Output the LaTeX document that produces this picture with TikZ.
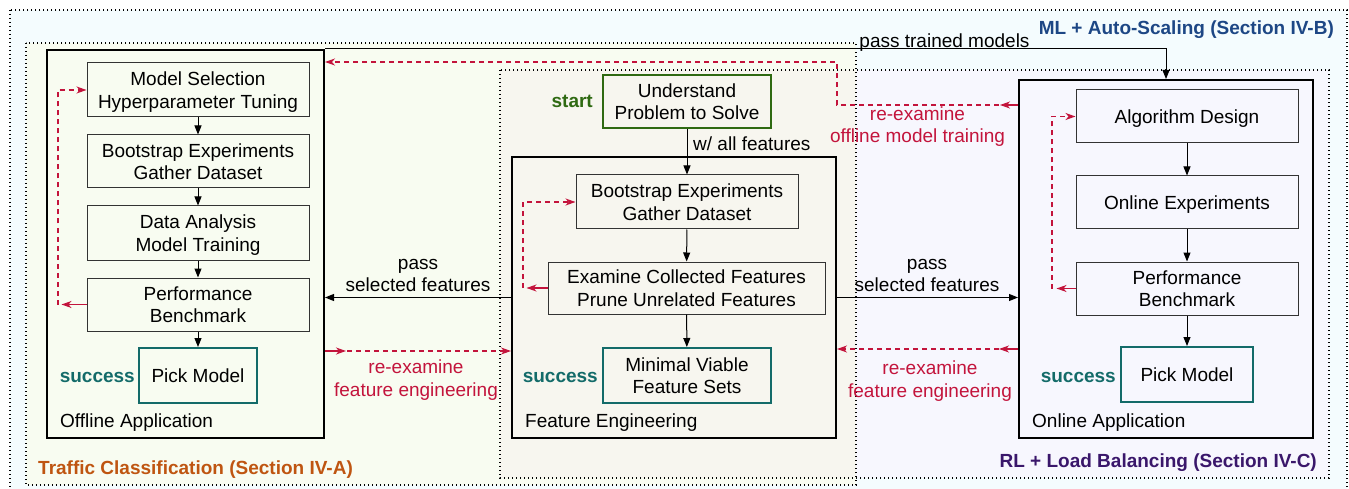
\documentclass[tikz,border=0pt]{standalone}
\usepackage{fontspec}
\setmainfont{Liberation Sans}
\usetikzlibrary{arrows.meta}
\definecolor{mlfill}{HTML}{F4FCFE}
\definecolor{tcfill}{HTML}{F8FCF1}
\definecolor{rlfill}{HTML}{F7F7FE}
\definecolor{ovfill}{HTML}{F7F6EF}
\definecolor{boxgray}{HTML}{333333}
\definecolor{okteal}{HTML}{136B69}
\definecolor{startgreen}{HTML}{2F6A12}
\definecolor{rered}{HTML}{C3143C}
\definecolor{mlblue}{HTML}{1D4785}
\definecolor{tcorange}{HTML}{BF5511}
\definecolor{rlpurple}{HTML}{3A176B}
\begin{document}
\begin{tikzpicture}[x=1pt,y=-1pt,
  every node/.style={font=\fontsize{19}{22.5}\selectfont, inner sep=0pt, text depth=0pt},
  inbox/.style={draw=boxgray, line width=1pt, align=center, minimum width=222pt, minimum height=53pt},
  okbox/.style={draw=okteal, line width=2pt, align=center, minimum height=55pt},
  startbox/.style={draw=startgreen, line width=2pt, align=center, minimum width=168pt, minimum height=53pt},
  appbox/.style={draw=black, line width=2pt},
  region/.style={line width=1.1pt, dash pattern=on 1.1pt off 2.9pt},
  blk/.style={draw=black, line width=1pt, -{Triangle[length=9pt,width=7pt]}},
  redtip/.style={draw=rered, line width=1.2pt, -{Stealth[length=10pt,width=7pt,inset=3pt]}},
  redloop/.style={redtip, dash pattern=on 5pt off 4pt},
  lab/.style={align=center},
  redlab/.style={align=center, text=rered},
  okword/.style={font=\fontsize{19}{22.5}\selectfont\bfseries, text=okteal},
  seclab/.style={font=\fontsize{19}{22.5}\selectfont\bfseries}
]
\useasboundingbox (0,0) rectangle (1349,489);
\fill[white] (0,0) rectangle (1349,489);
% regions
\fill[mlfill] (10,10) rectangle (1347,492);
\fill[tcfill] (26,43) rectangle (856,485);
\fill[rlfill] (500,70) rectangle (1329,478);
\fill[ovfill] (500,70) rectangle (856,478);
\draw[region] (10,10) rectangle (1347,492);
\draw[region] (26,43) rectangle (856,485);
\draw[region] (500,70) rectangle (1329,478);

\node[seclab, text=mlblue, anchor=east] (mlt) at (1334,28) {ML + Auto-Scaling (Section IV-B)};
\node[seclab, text=tcorange, anchor=west] (tct) at (38,468) {Traffic Classification (Section IV-A)};
\node[seclab, text=rlpurple, anchor=east] (rlt) at (1317,461) {RL + Load Balancing (Section IV-C)};

% application boxes
\node[appbox, minimum width=277pt, minimum height=388pt] (off) at (185.5,244) {};
\node[appbox, minimum width=324pt, minimum height=281pt] (fe) at (674,297.5) {};
\node[appbox, minimum width=294pt, minimum height=358pt] (on) at (1166,259) {};
\node[anchor=west] (offt) at (60,421) {Offline Application};
\node[anchor=west] (fet) at (525,421) {Feature Engineering};
\node[anchor=west] (ont) at (1032,421) {Online Application};

% offline
\node[inbox, minimum height=54pt] (ms) at (198,90) {Model Selection\\Hyperparameter Tuning};
\node[inbox] (bs1) at (198,161.5) {Bootstrap Experiments\\Gather Dataset};
\node[inbox, minimum height=54pt] (da) at (198,233) {Data Analysis\\Model Training};
\node[inbox] (pb1) at (198,304.5) {Performance\\Benchmark};
\node[okbox, minimum width=118pt] (pm1) at (198,375.5) {Pick Model};
\node[okword, anchor=east] (s1) at (135,377) {success};
\draw[blk] (ms) -- (bs1);
\draw[blk] (bs1) -- (da);
\draw[blk] (da) -- (pb1);
\draw[blk] (pb1) -- (pm1);

% feature engineering
\node[startbox] (up) at (687,101.5) {Understand\\Problem to Solve};
\node[font=\fontsize{19}{22.5}\selectfont\bfseries, text=startgreen, anchor=east] (st) at (593,101) {start};
\node[inbox, minimum height=54pt] (bs2) at (687,202) {Bootstrap Experiments\\Gather Dataset};
\node[inbox, minimum width=277pt, minimum height=52pt] (ex) at (686.5,288) {Examine Collected Features\\Prune Unrelated Features};
\node[okbox, minimum width=168pt] (mv) at (687,375.5) {Minimal Viable\\Feature Sets};
\node[okword, anchor=east] (s2) at (598,377) {success};
\draw[blk] (up) -- (bs2);
\node[anchor=west] (waf) at (693,144) {w/ all features};
\draw[blk] (bs2) -- (ex);
\draw[blk] (ex) -- (mv);

% online
\node[inbox] (ad) at (1187,116.5) {Algorithm Design};
\node[inbox] (oe) at (1187,202.5) {Online Experiments};
\node[inbox] (pb2) at (1187,288.5) {Performance\\Benchmark};
\node[okbox, minimum width=132pt] (pm2) at (1187,374.5) {Pick Model};
\node[okword, anchor=east] (s3) at (1116,377) {success};
\draw[blk] (ad) -- (oe);
\draw[blk] (oe) -- (pb2);
\draw[blk] (pb2) -- (pm2);

% pass selected features
\draw[blk] (fe.west) -- (fe.west -| off.east);
\node[lab] (psf1) at (418,275.5) {pass\\selected features};
\draw[blk] (fe.east) -- (fe.east -| on.west);
\node[lab] (psf2) at (927,275.5) {pass\\selected features};

% pass trained models
\draw[blk] (off.north east) -- (off.north east -| on.north) -- (on.north);
\node[lab] (ptm) at (944.5,41) {pass trained models};

% red loops inside boxes
\coordinate (oL) at (58,0);
\draw[redtip] (pb1.west) -- ++(-25,0);
\draw[redloop] (pb1.west -| oL) |- (ms.west);
\coordinate (fL) at (523,0);
\draw[redtip] (ex.west) -- ++(-21,0);
\draw[redloop] (ex.west -| fL) |- (bs2.west);
\coordinate (nL) at (1052,0);
\draw[redtip] (pb2.west) -- ++(-19,0);
\draw[redloop] (pb2.west -| nL) |- (ad.west);

% re-examine offline model training
\coordinate (tY) at (0,105);
\coordinate (tT) at (0,62);
\coordinate (tS) at (999,105);
\draw[redtip] (on.west |- tY) -- ++(-18,0);
\draw[redloop] (tS) -- (fe.east |- tY) |- (off.east |- tT);
\node[redlab] (rom) at (917.5,124.5) {re-examine\\offline model training};

% re-examine feature engineering (left)
\coordinate (bY) at (0,351);
\coordinate (bS) at (347,351);
\draw[redtip] (off.east |- bY) -- ++(21,0);
\draw[redloop] (bS) -- (fe.west |- bY);
\node[redlab] (rfe1) at (416,378) {re-examine\\feature engineering};

% re-examine feature engineering (right)
\coordinate (cY) at (0,349);
\coordinate (cS) at (999,349);
\draw[redtip] (on.west |- cY) -- ++(-19,0);
\draw[redloop] (cS) -- (fe.east |- cY);
\node[redlab] (rfe2) at (930,379) {re-examine\\feature engineering};
\end{tikzpicture}
\end{document}
